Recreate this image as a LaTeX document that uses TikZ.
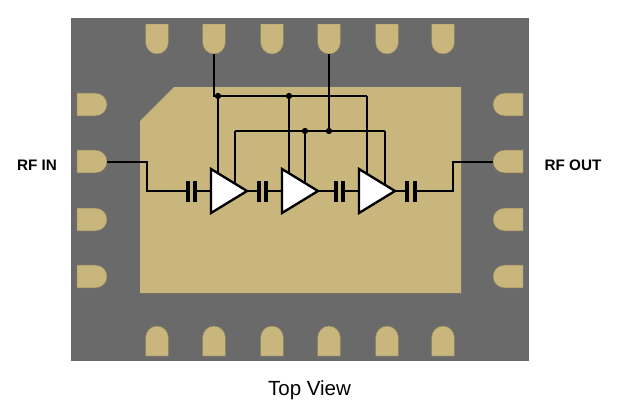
\documentclass[tikz,border=0pt]{standalone}
\usepackage{fontspec}
\setmainfont{Liberation Sans}
\usetikzlibrary{calc,positioning,shapes.geometric,shapes.misc}
\definecolor{pkggray}{HTML}{6A6A6A}
\definecolor{padgold}{HTML}{C8B67C}
\definecolor{padedge}{HTML}{8F8360}
\tikzset{
  pad/.style={rounded rectangle,rounded rectangle west arc=none,fill=padgold,draw=padedge,line width=0.4pt,
    minimum width=0.9cm,minimum height=0.68cm,inner sep=0pt,outer sep=0pt},
  amp/.style={isosceles triangle,isosceles triangle apex angle=62.8,isosceles triangle stretches,draw,fill=white,
    line width=2pt,minimum height=1.08cm,minimum width=1.32cm,inner sep=0pt,outer sep=0pt,anchor=lower side},
  plate/.style={fill=black,minimum width=2.8pt,minimum height=0.63cm,inner sep=0pt,outer sep=0pt},
  junction/.style={circle,fill,inner sep=1.9pt},
  sig/.style={line width=1.7pt},
  rail/.style={line width=2.3pt}
}

\begin{document}
\begin{tikzpicture}[x=0.03cm,y=-0.03cm]
  \useasboundingbox (0,0) rectangle (619,408);

  % package and paddle
  \fill[pkggray] (70.5,18) rectangle (529,361);
  \fill[padgold] (174,87)--(461,87)--(461,293)--(140,293)--(140,121)--cycle;

  % pins
  \foreach \i/\x in {1/157,2/214,3/272,4/329,5/387,6/443}
    \node[pad,rotate=-90] (top\i) at (\x,39) {};
  \foreach \i/\x in {1/157,2/214,3/272,4/329,5/387,6/443}
    \node[pad,rotate=90] (bot\i) at (\x,341) {};
  \foreach \i/\y in {1/104.5,2/161.5,3/219.5,4/276.5}
    \node[pad] (lft\i) at (92,\y) {};
  \foreach \i/\y in {1/104.5,2/161.5,3/219.5,4/276.5}
    \node[pad,rotate=180] (rgt\i) at (508,\y) {};

  % amplifier positions
  \coordinate (c1) at (211,191);
  \coordinate (c2) at (282,191);
  \coordinate (c3) at (359,191);

  % bias rails
  \node[junction] (j1) at (218,96) {};
  \node[junction] (j2) at (289,96) {};
  \coordinate (j3) at (367,96);
  \coordinate (k1) at (235,131);
  \node[junction] (k2) at (305,131) {};
  \node[junction] (k3) at (329,131) {};
  \coordinate (k4) at (385,131);

  \draw[rail] (top2.east) |- (j3);
  \draw[rail] (top4.east) -- (k3);
  \draw[rail,line join=miter] (k1) -- (k4);
  \draw[rail] (j1) -- (j1 |- c1);
  \draw[rail] (j2) -- (j2 |- c2);
  \draw[rail] (j3) -- (j3 |- c3);
  \draw[rail] (k1) -- (k1 |- c1);
  \draw[rail] (k2) -- (k2 |- c2);
  \draw[rail] (k4) -- (k4 |- c3);

  % amplifiers
  \node[amp] (amp1) at (c1) {};
  \node[amp] (amp2) at (c2) {};
  \node[amp] (amp3) at (c3) {};

  % coupling caps
  \foreach \i/\xa/\xb in {1/188/195,2/259/266,3/336/343,4/407/415} {
    \node[plate] (cap\i a) at (\xa,191) {};
    \node[plate] (cap\i b) at (\xb,191) {};
  }

  % signal path
  \coordinate (in1) at (147,161.5);
  \coordinate (out1) at (453,161.5);
  \draw[sig] (lft2.east) -- (in1) |- (cap1a);
  \draw[sig] (cap1b) -- (amp1.lower side);
  \draw[sig] (amp1.apex) -- (cap2a);
  \draw[sig] (cap2b) -- (amp2.lower side);
  \draw[sig] (amp2.apex) -- (cap3a);
  \draw[sig] (cap3b) -- (amp3.lower side);
  \draw[sig] (amp3.apex) -- (cap4a);
  \draw[sig] (cap4b) -| (out1) -- (rgt2.east);

  \node[font=\bfseries\fontsize{13}{15}\selectfont] (rfin) at (37,165) {RF IN};
  \node[font=\bfseries\fontsize{13}{15}\selectfont] (rfout) at (573,165) {RF OUT};
  \node[font=\fontsize{17.5}{20}\selectfont] (view) at (309.5,390) {Top View};
\end{tikzpicture}
\end{document}
